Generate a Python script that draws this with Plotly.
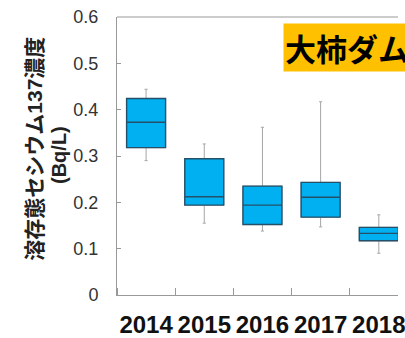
import plotly.graph_objects as go

# Yearly dissolved Cs-137 concentration statistics (Bq/L)
years = ["2014", "2015", "2016", "2017", "2018"]
lower_whisker = [0.290, 0.155, 0.138, 0.147, 0.090]
q1 = [0.318, 0.194, 0.152, 0.168, 0.117]
median = [0.373, 0.212, 0.194, 0.211, 0.133]
q3 = [0.424, 0.294, 0.235, 0.243, 0.146]
upper_whisker = [0.444, 0.326, 0.362, 0.417, 0.173]

xpos = list(range(1, len(years) + 1))

BOX_FILL = "#00B0F0"
BOX_EDGE = "#24506A"
WHISKER = "#A6A6A6"
AXIS = "#999999"

fig = go.Figure()

# Whiskers (thin grey) with full range
fig.add_trace(go.Box(
    x=xpos, q1=q1, median=median, q3=q3,
    lowerfence=lower_whisker, upperfence=upper_whisker,
    width=0.67, whiskerwidth=0.08,
    line=dict(color=WHISKER, width=1),
    fillcolor="rgba(0,0,0,0)",
    boxpoints=False, hoverinfo="skip", showlegend=False,
))

# Boxes with median line on top
fig.add_trace(go.Box(
    x=xpos, q1=q1, median=median, q3=q3,
    lowerfence=q1, upperfence=q3,
    width=0.67, whiskerwidth=0,
    line=dict(color=BOX_EDGE, width=1.4),
    fillcolor=BOX_FILL,
    boxpoints=False, showlegend=False,
))

fig.update_layout(
    width=405, height=338,
    margin=dict(l=117, r=0, t=17, b=38),
    paper_bgcolor="white", plot_bgcolor="white",
    font=dict(family="Liberation Sans, Arial, Noto Sans CJK JP", color="#222"),
    xaxis=dict(
        range=[0.5, 5.33],
        tickmode="array", tickvals=xpos,
        ticktext=[f"<b>{y}</b>" for y in years],
        ticks="", showgrid=False, zeroline=False,
        showline=True, linecolor=AXIS, linewidth=1,
        tickfont=dict(family="Liberation Sans, Arial", size=24, color="#111"),
        ticklabelstandoff=8, ticklabeloverflow="allow",
        minor=dict(ticks="inside", tick0=0.5, dtick=1, ticklen=7,
                   tickcolor=AXIS, tickwidth=1, showgrid=False),
    ),
    yaxis=dict(
        range=[0, 0.6], dtick=0.1, tickformat="~g",
        ticks="inside", ticklen=4, tickcolor=AXIS,
        showgrid=False, zeroline=False,
        showline=True, linecolor=AXIS, linewidth=1,
        tickfont=dict(family="Liberation Sans, Arial", size=18, color="#333"),
        ticklabelstandoff=14,
    ),
    shapes=[dict(type="line", xref="paper", yref="paper",
                 x0=0, x1=1, y0=1, y1=1,
                 line=dict(color=AXIS, width=1))],
    annotations=[
        dict(text="<b>溶存態セシウム137濃度</b>", textangle=-90,
             xref="paper", yref="paper",
             x=(33 - 117) / 288, y=(300 - 151) / 283,
             xanchor="center", yanchor="middle", showarrow=False,
             font=dict(family="Liberation Sans, Noto Sans CJK JP", size=21, color="#222")),
        dict(text="<b>(Bq/L)</b>", textangle=-90,
             xref="paper", yref="paper",
             x=(57 - 117) / 288, y=(300 - 157) / 283,
             xanchor="center", yanchor="middle", showarrow=False,
             font=dict(family="Liberation Sans, Arial", size=20, color="#222")),
        dict(text="<b>大柿ダム</b>",
             xref="paper", yref="paper",
             x=(287 - 117) / 288, y=(300 - 23) / 283,
             xanchor="left", yanchor="top", showarrow=False,
             bgcolor="#FFC000", borderpad=1,
             font=dict(family="Noto Sans CJK JP", size=31, color="#000")),
    ],
)

fig.write_html("out.html")
